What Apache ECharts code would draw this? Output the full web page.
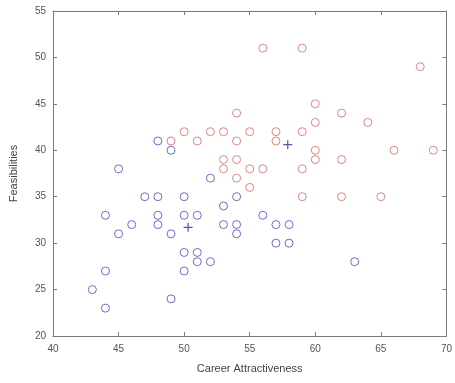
<!DOCTYPE html>
<html>
<head>
<meta charset="utf-8">
<script src="https://cdn.jsdelivr.net/npm/echarts@6/dist/echarts.min.js"></script>
<style>
  html, body { margin: 0; padding: 0; background: #fff; }
  #chart { width: 455px; height: 383px; }
</style>
</head>
<body>
<div id="chart"></div>
<script>
// group 1 (blue): [career attractiveness, feasibility]
var blueX = [45, 48, 49, 52, 47, 48, 50, 54, 53, 44, 48, 50, 51, 56, 46, 48, 53, 54, 57, 58, 45, 49, 54, 57, 58, 50, 51, 51, 52, 63, 44, 50, 43, 49, 44];
var blueY = [38, 41, 40, 37, 35, 35, 35, 35, 34, 33, 33, 33, 33, 33, 32, 32, 32, 32, 32, 32, 31, 31, 31, 30, 30, 29, 29, 28, 28, 28, 27, 27, 25, 24, 23];
// group 2 (red)
var redX = [56, 59, 68, 60, 54, 62, 60, 64, 50, 52, 53, 55, 57, 59, 49, 51, 54, 57, 60, 66, 69, 53, 54, 60, 62, 53, 55, 56, 59, 54, 55, 59, 62, 65];
var redY = [51, 51, 49, 45, 44, 44, 43, 43, 42, 42, 42, 42, 42, 42, 41, 41, 41, 41, 40, 40, 40, 39, 39, 39, 39, 38, 38, 38, 38, 37, 36, 35, 35, 35];
// group centres (+ markers)
var centreX = [50.3, 57.9];
var centreY = [31.7, 40.6];

var xTicks = [40, 45, 50, 55, 60, 65, 70];
var yTicks = [20, 25, 30, 35, 40, 45, 50, 55];

function pairs(xs, ys) {
  return xs.map(function (x, i) { return [x, ys[i]]; });
}

var axisCol = '#7a7a7a';
var font = 'Liberation Sans, Arial, sans-serif';

function xAxisDef(pos, showLabel) {
  return {
    type: 'value', position: pos,
    min: xTicks[0], max: xTicks[xTicks.length - 1], interval: 5,
    name: showLabel ? 'Career Attractiveness' : '',
    nameLocation: 'middle', nameGap: 27,
    nameTextStyle: { color: '#444', fontSize: 11, fontFamily: font },
    axisLine: { show: true, onZero: false, lineStyle: { color: axisCol, width: 1 } },
    axisTick: { show: true, inside: true, length: 4, lineStyle: { color: axisCol } },
    axisLabel: { show: showLabel, color: '#555', fontSize: 10, fontFamily: font, margin: 8 },
    splitLine: { show: false }
  };
}
function yAxisDef(pos, showLabel) {
  return {
    type: 'value', position: pos,
    min: yTicks[0], max: yTicks[yTicks.length - 1], interval: 5,
    name: showLabel ? 'Feasibilities' : '',
    nameLocation: 'middle', nameGap: 34,
    nameTextStyle: { color: '#444', fontSize: 11, fontFamily: font },
    axisLine: { show: true, onZero: false, lineStyle: { color: axisCol, width: 1 } },
    axisTick: { show: true, inside: true, length: 4, lineStyle: { color: axisCol } },
    axisLabel: { show: showLabel, color: '#555', fontSize: 10, fontFamily: font, margin: 7 },
    splitLine: { show: false }
  };
}

var option = {
  backgroundColor: '#fff',
  animation: false,
  grid: { left: 52, right: 8, top: 11, bottom: 47 },
  xAxis: [xAxisDef('bottom', true), xAxisDef('top', false)],
  yAxis: [yAxisDef('left', true), yAxisDef('right', false)],
  series: [
    {
      type: 'scatter', symbol: 'circle', symbolSize: 8,
      data: pairs(blueX, blueY),
      itemStyle: { color: 'rgba(0,0,0,0)', borderColor: '#4a4ab8', borderWidth: 1 }
    },
    {
      type: 'scatter', symbol: 'circle', symbolSize: 8,
      data: pairs(redX, redY),
      itemStyle: { color: 'rgba(0,0,0,0)', borderColor: '#cf6a6a', borderWidth: 1 }
    },
    {
      type: 'scatter', symbol: 'path://M0,5L10,5M5,0L5,10', symbolSize: 9,
      data: pairs(centreX, centreY),
      itemStyle: { color: 'rgba(0,0,0,0)', borderColor: '#2a2a8a', borderWidth: 1.2 }
    }
  ]
};

var chart = echarts.init(document.getElementById('chart'));
chart.setOption(option);
</script>
</body>
</html>
